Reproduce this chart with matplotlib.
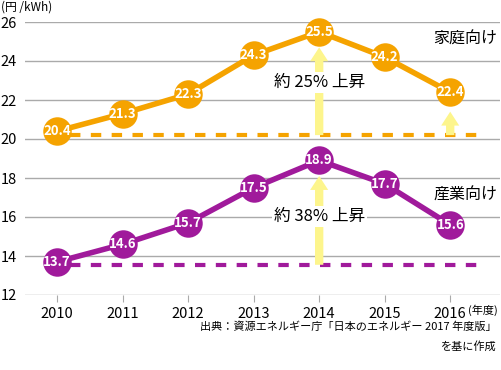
import matplotlib
matplotlib.use('Agg')
import matplotlib.pyplot as plt

plt.rcParams['font.family'] = ['Noto Sans CJK JP', 'DejaVu Sans']

# data
years = [2010, 2011, 2012, 2013, 2014, 2015, 2016]
household = [20.4, 21.3, 22.3, 24.3, 25.5, 24.2, 22.4]
industry = [13.7, 14.6, 15.7, 17.5, 18.9, 17.7, 15.6]
yticks = [12, 14, 16, 18, 20, 22, 24, 26]

orange = '#f5a300'
purple = '#a01a9b'
yellow = '#fdf58c'

fig = plt.figure(figsize=(5.02, 3.70), dpi=100)
ax = fig.add_axes([25 / 502, 75 / 370, 475 / 502, 273 / 370])
ax.set_xlim(2009.51, 2016.76)
ax.set_ylim(12, 26)

# grid
for v in yticks:
    ax.axhline(v, color='#aaaaaa', lw=1, zorder=0)
for s in ax.spines.values():
    s.set_visible(False)
ax.set_yticks(yticks)
ax.set_yticklabels([str(v) for v in yticks], fontsize=10.5)
ax.tick_params(axis='y', length=0, pad=6)
ax.set_xticks(years)
ax.set_xticklabels([str(y) for y in years], fontsize=10.5)
ax.tick_params(axis='x', length=5, color='#aaaaaa', pad=4)

# baselines
ax.plot([years[0] + 0.2, 2016.45], [household[0] - 0.2] * 2, ls=(0, (2.5, 2.5)),
        color=orange, lw=3, zorder=1)
ax.plot([years[0] + 0.2, 2016.45], [industry[0] - 0.15] * 2, ls=(0, (2.5, 2.5)),
        color=purple, lw=3, zorder=1)


def arrow(x, y0, y1):
    ax.annotate('', xy=(x, y1), xytext=(x, y0), zorder=2,
                arrowprops=dict(arrowstyle='simple,head_length=1.0,head_width=1.3,tail_width=0.6',
                                mutation_scale=10, color=yellow, lw=0,
                                shrinkA=0, shrinkB=0))


arrow(2014, household[0] - 0.2, household[4] - 0.8)
arrow(2016, household[0] - 0.2, 21.4)
arrow(2014, industry[0] - 0.15, industry[4] - 0.8)

ax.text(2014, 22.9, '約 25% 上昇', ha='center', va='center', fontsize=12,
        bbox=dict(facecolor='white', edgecolor='none', pad=1.5), zorder=3)
ax.text(2014, 16.05, '約 38% 上昇', ha='center', va='center', fontsize=12,
        bbox=dict(facecolor='white', edgecolor='none', pad=1.5), zorder=3)

# series
for vals, c in [(household, orange), (industry, purple)]:
    ax.plot(years, vals, color=c, lw=4, marker='o', ms=20.5, mec='none',
            zorder=4, clip_on=False)
    for x, v in zip(years, vals):
        ax.text(x, v, f'{v:.1f}', ha='center', va='center', color='white',
                fontsize=9.5, fontweight='bold', zorder=5)

ax.text(2016.72, 25.1, '家庭向け', ha='right', va='center', fontsize=11.5)
ax.text(2016.72, 17.1, '産業向け', ha='right', va='center', fontsize=11.5)

fig.text(1 / 502, 1 - 7 / 370, '(円 /kWh)', ha='left', va='center', fontsize=8.5)
fig.text(468 / 502, 1 - 310 / 370, '(年度)', ha='left', va='center', fontsize=8)
fig.text(497 / 502, 1 - 327 / 370, '出典：資源エネルギー庁「日本のエネルギー 2017 年度版」',
         ha='right', va='center', fontsize=8)
fig.text(497 / 502, 1 - 346 / 370, 'を基に作成', ha='right', va='center', fontsize=8)

plt.savefig('out.png', dpi=100)
